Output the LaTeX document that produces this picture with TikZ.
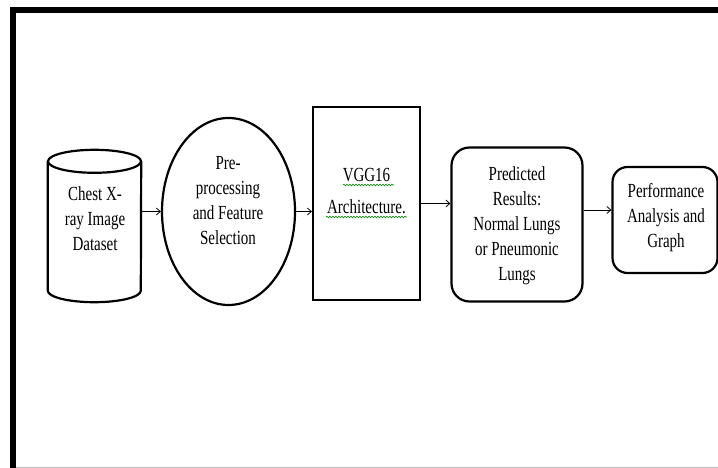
\documentclass[tikz,border=0pt]{standalone}
\usepackage{fontspec}
\setmainfont{Liberation Serif}[FakeStretch=0.75]
\usetikzlibrary{positioning, arrows.meta, shapes.geometric, decorations.pathmorphing}

\begin{document}
\begin{tikzpicture}[x=1pt, y=-1pt, font=\fontsize{20}{25}\selectfont,
  box/.style={draw, line width=2.2pt, inner sep=0pt},
  txt/.style={align=center, inner sep=0pt},
  arr/.style={-{Straight Barb[length=4pt, width=7pt]}, line width=0.8pt},
  squiggle/.style={green!55!black, line width=0.6pt, decorate, decoration={snake, amplitude=0.8pt, segment length=3pt}}]
  \useasboundingbox (0,0) rectangle (718,468);
  % frame
  \draw[line width=6pt] (13,468) -- (13,10.5) -- (718,10.5);
  \draw[black!25, line width=1pt] (16,467) -- (718,467);

  % dataset
  \node[inner sep=0pt, minimum width=93pt, minimum height=152pt] (data) at (94.5,226) {};
  \draw[line width=2.2pt] ([yshift=-11.5pt]data.north west) -- ([yshift=11.5pt]data.south west)
    arc[start angle=180, end angle=360, x radius=46.5pt, y radius=11.5pt] -- ([yshift=-11.5pt]data.north east);
  \draw[line width=2.2pt] ([yshift=-11.5pt]data.north) ellipse[x radius=46.5pt, y radius=11.5pt];
  \node[txt] (datatxt) at (95,218.8) {Chest X-\\ray Image\\Dataset};

  % pre-processing
  \node[box, ellipse, minimum width=133pt, minimum height=187pt] (pre) at (228.5,211.5) {};
  \node[txt] (pretxt) at (228,200.2) {Pre-\\processing\\and Feature\\Selection};

  % model
  \node[box, rectangle, minimum width=107pt, minimum height=193pt] (vgg) at (366.5,203.5) {};
  \node[txt] (vggtxt) at (366.5,190.9) {VGG16\\[6.6pt]Architecture.};
  \draw[squiggle] (343,185) -- (394,185);
  \draw[squiggle] (326,217) -- (407,217);

  % results
  \node[box, rounded corners=18pt, minimum width=131pt, minimum height=154pt] (pred) at (517,224.5) {};
  \node[txt] (predtxt) at (517,225.3) {Predicted\\Results:\\Normal Lungs\\or Pneumonic\\Lungs};

  \node[box, rounded corners=15pt, minimum width=105pt, minimum height=106pt] (perf) at (665,220) {};
  \node[txt] (perftxt) at (666,217.3) {Performance\\Analysis and\\Graph};

  \draw[arr] (data.east |- pre.west) -- (pre.west);
  \draw[arr] (pre.east) -- (pre.east -| vgg.west);
  \draw[arr] (vgg.east) -- (vgg.east -| pred.west);
  \draw[arr] ([yshift=10pt]perf.west -| pred.east) -- ([yshift=10pt]perf.west);
\end{tikzpicture}
\end{document}
